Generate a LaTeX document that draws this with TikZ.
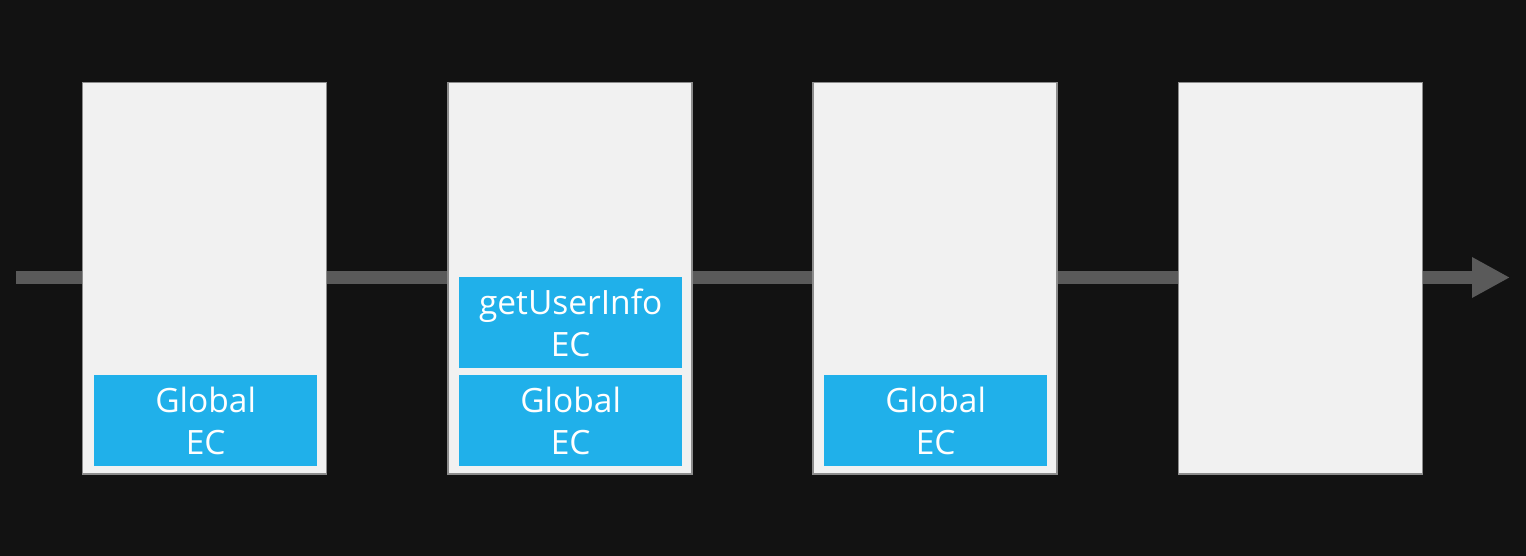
\documentclass[tikz,border=0pt]{standalone}
\usepackage{fontspec}
\setmainfont{Open Sans}
\usetikzlibrary{arrows.meta}
\definecolor{bg}{HTML}{121212}
\definecolor{arrowgray}{HTML}{5A5A5A}
\definecolor{framegray}{HTML}{8C8C8C}
\definecolor{panel}{HTML}{F1F1F1}
\definecolor{ecblue}{HTML}{20B0EA}
\tikzset{
  frame/.style={draw=framegray, line width=1.5pt, fill=panel, minimum width=244pt, minimum height=391pt, inner sep=0pt, anchor=north west},
  ecbox/.style={fill=ecblue, text=white, minimum width=223pt, minimum height=91pt, inner sep=0pt, anchor=north west, align=center, font=\fontsize{33.5}{42}\selectfont},
  timeline/.style={draw=arrowgray, line width=13pt, -{Triangle[length=38pt,width=38pt]}}
}
\begin{document}
\begin{tikzpicture}[x=1pt,y=-1pt]
\fill[bg] (0,0) rectangle (1526,556);
\useasboundingbox (0,0) rectangle (1526,556);
\coordinate (tstart) at (16,277.5);
\coordinate (tend) at (1510,277.5);
\draw[timeline] (tstart) -- (tend);
\node[frame] (f1) at (81.5,82) {};
\node[frame] (f2) at (447,82) {};
\node[frame] (f3) at (812,82) {};
\node[frame] (f4) at (1177.5,82) {};
\node[ecbox] (g1) at (94,375) {Global\\EC};
\node[ecbox] (u2) at (459,277) {getUserInfo\\EC};
\node[ecbox] (g2) at (459,375) {Global\\EC};
\node[ecbox] (g3) at (824,375) {Global\\EC};
\end{tikzpicture}
\end{document}
